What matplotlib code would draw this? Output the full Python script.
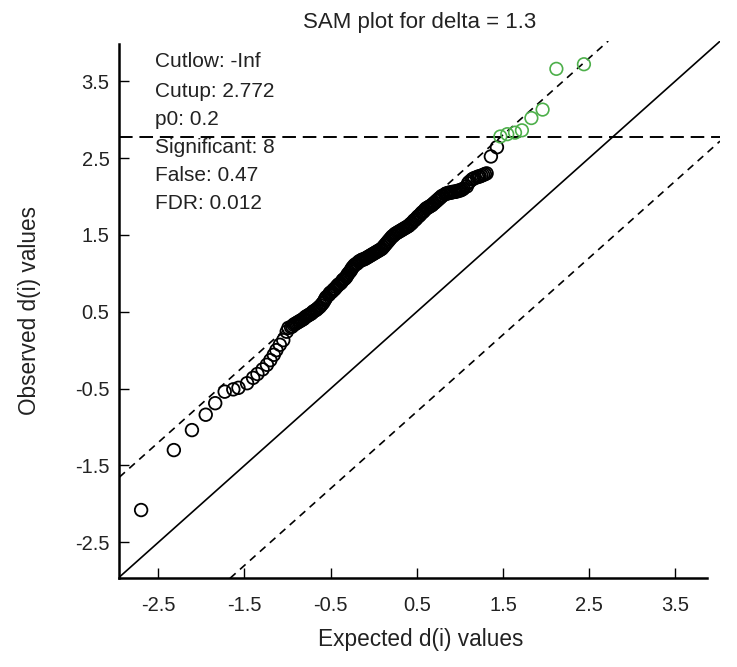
import matplotlib
matplotlib.use("Agg")
import matplotlib.pyplot as plt

plt.rcParams['font.family'] = ['Liberation Sans', 'DejaVu Sans']

# ---- data ----
delta = 1.3
cutup = 2.772

# non-significant genes (expected, observed)
expected_ns = [-2.70, -2.32, -2.11, -1.95, -1.84, -1.73, -1.63, -1.57, -1.47, -1.40,
               -1.35, -1.29, -1.24, -1.20, -1.16, -1.13, -1.09, -1.05, -1.01, -0.99,
               -0.96, -0.93, -0.90, -0.87, -0.84, -0.81, -0.78, -0.75, -0.72, -0.69,
               -0.66, -0.63, -0.60, -0.57, -0.55,
               -0.52, -0.50, -0.47, -0.45, -0.42, -0.40, -0.37, -0.35, -0.32, -0.30, -0.27, -0.25,
               -0.22, -0.19, -0.16, -0.13, -0.10, -0.07, -0.04, -0.01, 0.02, 0.05, 0.08, 0.11,
               0.14, 0.17, 0.20, 0.23, 0.26, 0.29, 0.32, 0.35, 0.38, 0.41, 0.44, 0.47, 0.50,
               0.53, 0.56, 0.59, 0.62, 0.65, 0.68, 0.71, 0.74, 0.77, 0.80,
               0.83, 0.86, 0.89, 0.92, 0.95, 0.98, 1.01, 1.04,
               1.08, 1.11, 1.14, 1.17, 1.20, 1.23, 1.27, 1.31,
               1.36, 1.43,
               -0.945, -0.915, -0.885, -0.855, -0.825, -0.795, -0.765, -0.735, -0.705, -0.675,
               -0.645, -0.615, -0.585, -0.56,
               -0.51, -0.485, -0.46, -0.435, -0.41, -0.385, -0.36, -0.335, -0.31, -0.285, -0.26, -0.235,
               -0.205, -0.175, -0.145, -0.115, -0.085, -0.055, -0.025, 0.005, 0.035, 0.065, 0.095, 0.125,
               0.155, 0.185, 0.215, 0.245, 0.275, 0.305, 0.335, 0.365, 0.395, 0.425, 0.455, 0.485,
               0.515, 0.545, 0.575, 0.605, 0.635, 0.665, 0.695, 0.725, 0.755, 0.785,
               0.845, 0.875, 0.905, 0.935, 0.965, 0.995, 1.025,
               1.095, 1.155, 1.215, 1.25, 1.29]
observed_ns = [-2.08, -1.30, -1.04, -0.84, -0.69, -0.54, -0.51, -0.49, -0.43, -0.36,
               -0.31, -0.25, -0.19, -0.13, -0.06, 0.00, 0.07, 0.13, 0.24, 0.29,
               0.30, 0.33, 0.35, 0.37, 0.39, 0.41, 0.44, 0.46, 0.48, 0.51,
               0.53, 0.56, 0.60, 0.65, 0.69,
               0.72, 0.75, 0.78, 0.80, 0.84, 0.86, 0.89, 0.92, 0.95, 0.99, 1.03, 1.07,
               1.11, 1.13, 1.16, 1.18, 1.19, 1.21, 1.23, 1.25, 1.27, 1.29, 1.31, 1.34,
               1.38, 1.42, 1.46, 1.49, 1.52, 1.54, 1.56, 1.58, 1.60, 1.62, 1.65, 1.69, 1.72,
               1.75, 1.79, 1.82, 1.85, 1.87, 1.89, 1.92, 1.95, 1.98, 2.01,
               2.03, 2.04, 2.05, 2.06, 2.06, 2.07, 2.08, 2.10,
               2.13, 2.19, 2.22, 2.24, 2.25, 2.26, 2.28, 2.30,
               2.52, 2.64,
               0.31, 0.34, 0.36, 0.38, 0.40, 0.43, 0.45, 0.47, 0.50, 0.52,
               0.55, 0.58, 0.62, 0.67,
               0.74, 0.76, 0.79, 0.82, 0.85, 0.87, 0.91, 0.93, 0.97, 1.01, 1.05, 1.09,
               1.12, 1.15, 1.17, 1.18, 1.20, 1.22, 1.24, 1.26, 1.28, 1.30, 1.32, 1.36,
               1.40, 1.44, 1.48, 1.51, 1.53, 1.55, 1.57, 1.59, 1.61, 1.64, 1.67, 1.70,
               1.74, 1.77, 1.80, 1.84, 1.86, 1.88, 1.91, 1.94, 1.97, 2.00,
               2.04, 2.05, 2.05, 2.06, 2.07, 2.08, 2.09,
               2.17, 2.23, 2.26, 2.27, 2.29]

# significant genes (green)
expected_sig = [1.47, 1.55, 1.64, 1.72, 1.83, 1.96, 2.12, 2.44]
observed_sig = [2.78, 2.81, 2.83, 2.86, 3.02, 3.13, 3.66, 3.72]

ticks = [-2.5, -1.5, -0.5, 0.5, 1.5, 2.5, 3.5]
tick_labels = ['-2.5', '-1.5', '-0.5', '0.5', '1.5', '2.5', '3.5']

info_lines = ['Cutlow: -Inf', 'Cutup: 2.772', 'p0: 0.2', 'Significant: 8',
              'False: 0.47', 'FDR: 0.012']

# ---- figure ----
fig = plt.figure(figsize=(7.37, 6.67), dpi=100)
ax = fig.add_axes([0.1619, 0.133, 0.815, 0.8055])

xlim = (-2.953, 4.019)
ylim = (-2.968, 4.022)
ax.set_xlim(*xlim)
ax.set_ylim(*ylim)

ax.axline((0, 0), slope=1, color='black', lw=1.2)
ax.axline((0, delta), slope=1, color='black', lw=1.2, ls=(0, (4.5, 3.5)))
ax.axline((0, -delta), slope=1, color='black', lw=1.2, ls=(0, (4.5, 3.5)))
ax.axhline(cutup, color='black', lw=1.4, ls=(0, (7, 3.5)))

ax.scatter(expected_ns, observed_ns, s=82, facecolors='none', edgecolors='black',
           linewidths=1.3, zorder=3)
ax.scatter(expected_sig, observed_sig, s=82, facecolors='none', edgecolors='#4daf4a',
           linewidths=1.2, zorder=3)

ys = [0.9615, 0.9056, 0.853, 0.801, 0.749, 0.697]
for t, y in zip(info_lines, ys):
    ax.text(0.0594, y, t, transform=ax.transAxes, fontsize=15, va='center', ha='left',
            color='#222222')

for s in ['top', 'right']:
    ax.spines[s].set_visible(False)
for s in ['left', 'bottom']:
    ax.spines[s].set_linewidth(1.8)
ax.spines['bottom'].set_bounds(xlim[0], 3.865)
ax.spines['left'].set_bounds(ylim[0], 3.983)

ax.set_xticks(ticks)
ax.set_xticklabels(tick_labels)
ax.set_yticks(ticks)
ax.set_yticklabels(tick_labels)
ax.tick_params(axis='both', direction='in', length=7, width=1.0, labelsize=14.5,
               labelcolor='#222222')
ax.tick_params(axis='x', pad=13)
ax.tick_params(axis='y', pad=7)

fig.text(0.569, 0.967, 'SAM plot for delta = 1.3', ha='center', va='center', fontsize=16,
         color='#222222')
fig.text(0.571, 0.0405, 'Expected d(i) values', ha='center', va='center', fontsize=16.3,
         color='#222222')
fig.text(0.0407, 0.535, 'Observed d(i) values', ha='center', va='center', fontsize=16.3,
         rotation=90, color='#222222')

fig.savefig('out.png', dpi=100)
